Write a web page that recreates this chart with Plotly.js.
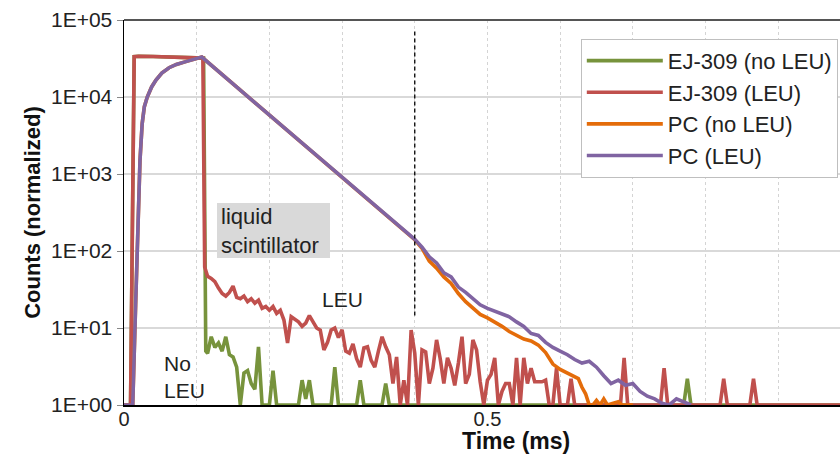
<!DOCTYPE html>
<html>
<head>
<meta charset="utf-8">
<script src="https://cdn.plot.ly/plotly-3.0.1.min.js"></script>
<style>
html,body{margin:0;padding:0;background:#fff;overflow:hidden;}
#chart{width:840px;height:458px;}
</style>
</head>
<body>
<div id="chart"></div>
<script>
// ---- Data (time in ms, counts normalized) ----
const seriesNames = ["EJ-309 (no LEU)", "EJ-309 (LEU)", "PC (no LEU)", "PC (LEU)"];

const ejNoLeuTime = [0,0.009,0.014,0.02,0.04,0.06,0.08,0.1,0.1095,0.1125,0.115,0.12,0.125,0.13,0.135,0.14,0.145,0.15,0.155,0.16,0.165,0.17,0.175,0.18,0.185,0.19,0.195,0.2,0.205,0.21,0.215,0.24,0.245,0.25,0.255,0.26,0.285,0.29,0.295,0.32,0.325,0.33,0.355,0.36,0.365,0.77,0.775,0.78,0.985];
const ejNoLeuCounts = [1,1,33500,33800,33500,33200,33000,32800,32000,5,4.7,7.7,5.6,6.4,5,7.7,4.5,4.2,3.1,1,2.6,2.8,1.9,1.6,5.7,1,1,1,2.8,1,1,1,2.1,1.2,2.1,1,1,3.1,1,1,2.1,1,1,1.9,1,1,2.2,1,1];

const ejLeuTime = [0,0.009,0.014,0.02,0.04,0.06,0.08,0.1,0.1085,0.111,0.115,0.12,0.125,0.13,0.135,0.14,0.145,0.15,0.155,0.16,0.165,0.17,0.175,0.18,0.185,0.19,0.195,0.2,0.205,0.21,0.215,0.22,0.225,0.23,0.235,0.24,0.245,0.25,0.255,0.26,0.265,0.27,0.275,0.28,0.285,0.29,0.295,0.3,0.305,0.31,0.315,0.32,0.325,0.33,0.335,0.34,0.345,0.35,0.355,0.36,0.365,0.37,0.375,0.38,0.385,0.39,0.395,0.4,0.405,0.41,0.415,0.42,0.425,0.43,0.435,0.44,0.445,0.45,0.455,0.46,0.465,0.47,0.475,0.48,0.485,0.49,0.495,0.5,0.505,0.51,0.515,0.52,0.525,0.53,0.535,0.54,0.545,0.55,0.555,0.56,0.565,0.57,0.575,0.58,0.585,0.59,0.595,0.6,0.605,0.61,0.615,0.62,0.683,0.688,0.693,0.738,0.743,0.748,0.82,0.825,0.83,0.861,0.866,0.871,0.985];
const ejLeuCounts = [1,1,33500,33800,33500,33200,33000,32800,32000,62,47,44,40,33,28,26,29,35,25,24,26,22,24,21,23,18,19,17,19,15.5,17,12.7,6.4,14,13,12,10.5,11.6,14.5,12,10,9.4,5.2,6.5,9.4,10,7.5,9.5,5,4.7,6.2,4,3.1,5.5,5.7,3.8,3.1,5,7.7,5.7,4.5,1.9,4.2,1,2.1,1,9.4,4.7,1,5.2,4.9,1.9,3,7,4,1.9,4.1,3,1.8,3.5,7.7,1.9,2.5,7,5.2,2,1,2.1,2.5,4.1,1,1.5,1.9,1.9,1,4.1,1,4.1,1.9,3,2,2,2,2.1,1,1,3,1,1,1,2.2,1,1,4.1,1,1,3,1,1,2.2,1,1,2.2,1,1];

const pcNoLeuTime = [0,0.012,0.016,0.019,0.022,0.025,0.028,0.032,0.038,0.044,0.052,0.062,0.072,0.085,0.095,0.107,0.15,0.2,0.25,0.3,0.35,0.4,0.41,0.42,0.43,0.44,0.45,0.46,0.47,0.48,0.49,0.5,0.51,0.52,0.53,0.54,0.55,0.56,0.57,0.58,0.59,0.6,0.61,0.62,0.625,0.63,0.635,0.64,0.645,0.65,0.655,0.66,0.665,0.68,0.685,0.7];
const pcNoLeuCounts = [1,1,20,150,1500,4500,7500,10000,13500,16600,20500,24000,26500,28800,31000,33000,14800,5860,2300,910,358,140,108,74,60,46,38,28,22,18,15,13.5,12,10.5,9,8,7.2,6.8,6,4.8,3.4,2.9,2.6,2.3,2.2,1.7,1.4,1,1,1.15,1,1.2,1,1.1,1,1];

const pcLeuTime = [0,0.012,0.016,0.019,0.022,0.025,0.028,0.032,0.038,0.044,0.052,0.062,0.072,0.085,0.095,0.107,0.15,0.2,0.25,0.3,0.35,0.4,0.41,0.42,0.43,0.44,0.45,0.46,0.47,0.48,0.49,0.5,0.51,0.52,0.53,0.54,0.55,0.56,0.57,0.58,0.59,0.6,0.61,0.62,0.63,0.64,0.65,0.66,0.67,0.68,0.69,0.7,0.71,0.72,0.73,0.74,0.75,0.76,0.77,0.78];
const pcLeuCounts = [1,1,20,150,1500,4500,7500,10000,13500,16600,20500,24000,26500,28800,31000,33000,14800,5860,2300,910,358,142,112,84,70,52,46,34,29,24,20,18,16.5,15,14,12,10.5,8.5,8,6.5,5.6,5,4.5,3.9,3.5,3.7,3.1,2.4,1.9,2.1,1.8,1.9,1.5,1.3,1.2,1.05,1,1.2,1.1,1];

const markerTime = [0.4, 0.4];
const markerCounts = [14.5, 75000];

const yTickVals = [1, 10, 100, 1000, 10000, 100000];
const yTickText = ["1E+00", "1E+01", "1E+02", "1E+03", "1E+04", "1E+05"];
const xTickVals = [0, 0.1, 0.2, 0.3, 0.4, 0.5, 0.6, 0.7, 0.8, 0.9];
const xTickText = ["0", "", "", "", "", "0.5", "", "", "", ""];

const colors = ["#77933C", "#C0504D", "#E46C0A", "#8064A2"];
const FONT = "Liberation Sans, Arial, sans-serif";

function line(x, y, name, color) {
  return {x: x, y: y, name: name, type: "scatter", mode: "lines",
          line: {color: color, width: 3.6}, hoverinfo: "skip"};
}

const traces = [
  line(ejNoLeuTime, ejNoLeuCounts, seriesNames[0], colors[0]),
  line(ejLeuTime, ejLeuCounts, seriesNames[1], colors[1]),
  line(pcNoLeuTime, pcNoLeuCounts, seriesNames[2], colors[2]),
  line(pcLeuTime, pcLeuCounts, seriesNames[3], colors[3]),
  {x: markerTime, y: markerCounts, type: "scatter", mode: "lines", showlegend: false,
   hoverinfo: "skip", line: {color: "#000", width: 1.3, dash: "4px,3px"}}
];

const txt = {family: FONT, size: 21, color: "#222"};

const layout = {
  width: 840, height: 458,
  margin: {l: 124, r: 0, t: 20, b: 53},
  paper_bgcolor: "#fff", plot_bgcolor: "#fff",
  font: {family: FONT, size: 21, color: "#222"},
  showlegend: true,
  legend: {
    x: 0.638, y: 0.951, xanchor: "left", yanchor: "top",
    bgcolor: "#fff", bordercolor: "#bfbfbf", borderwidth: 1,
    font: {family: FONT, size: 22, color: "#222"},
    itemwidth: 76, tracegroupgap: 0
  },
  xaxis: {
    type: "linear", range: [0, 0.985],
    tickvals: xTickVals, ticktext: xTickText,
    showgrid: true, gridcolor: "#d4d4d4", griddash: "dot", gridwidth: 1,
    showline: true, linecolor: "#000", linewidth: 1.5,
    ticks: "", zeroline: false, ticklabelstandoff: -5,
    tickfont: {family: FONT, size: 20, color: "#222"}
  },
  yaxis: {
    type: "log", range: [0, 5],
    tickvals: yTickVals, ticktext: yTickText,
    showgrid: true, gridcolor: "#d9d9d9", gridwidth: 1.2,
    showline: true, linecolor: "#000", linewidth: 1.5,
    ticks: "outside", ticklen: 6, tickcolor: "#888", tickwidth: 1,
    zeroline: false,
    tickfont: {family: FONT, size: 21, color: "#222"},
    title: {text: "<b>Counts (normalized)</b>", font: {family: FONT, size: 22, color: "#111"}, standoff: 4}
  },
  shapes: [
    {type: "line", xref: "paper", yref: "paper", x0: 0, x1: 1, y0: 1, y1: 1,
     line: {color: "#555", width: 2}},
    {type: "rect", xref: "paper", yref: "paper", x0: 0.1299, x1: 0.2877, y0: 0.3818, y1: 0.5247,
     fillcolor: "#d9d9d9", line: {width: 0}, layer: "above"}
  ],
  annotations: [
    {xref: "paper", yref: "paper", x: 0.547, y: -0.133, xanchor: "center", yanchor: "bottom",
     text: "<b>Time (ms)</b>", showarrow: false, font: {family: FONT, size: 23, color: "#111"}},
    {xref: "paper", yref: "paper", x: 0.133, y: 0.453, xanchor: "left", yanchor: "middle",
     text: "liquid<br>scintillator", align: "left", showarrow: false,
     font: {family: FONT, size: 22, color: "#222"}},
    {xref: "paper", yref: "paper", x: 0.274, y: 0.308, xanchor: "left", yanchor: "top",
     text: "LEU", showarrow: false, font: txt},
    {xref: "paper", yref: "paper", x: 0.053, y: 0.142, xanchor: "left", yanchor: "top",
     text: "No<br>LEU", align: "left", showarrow: false, font: txt}
  ]
};

Plotly.newPlot("chart", traces, layout, {staticPlot: true, displayModeBar: false});
</script>
</body>
</html>
